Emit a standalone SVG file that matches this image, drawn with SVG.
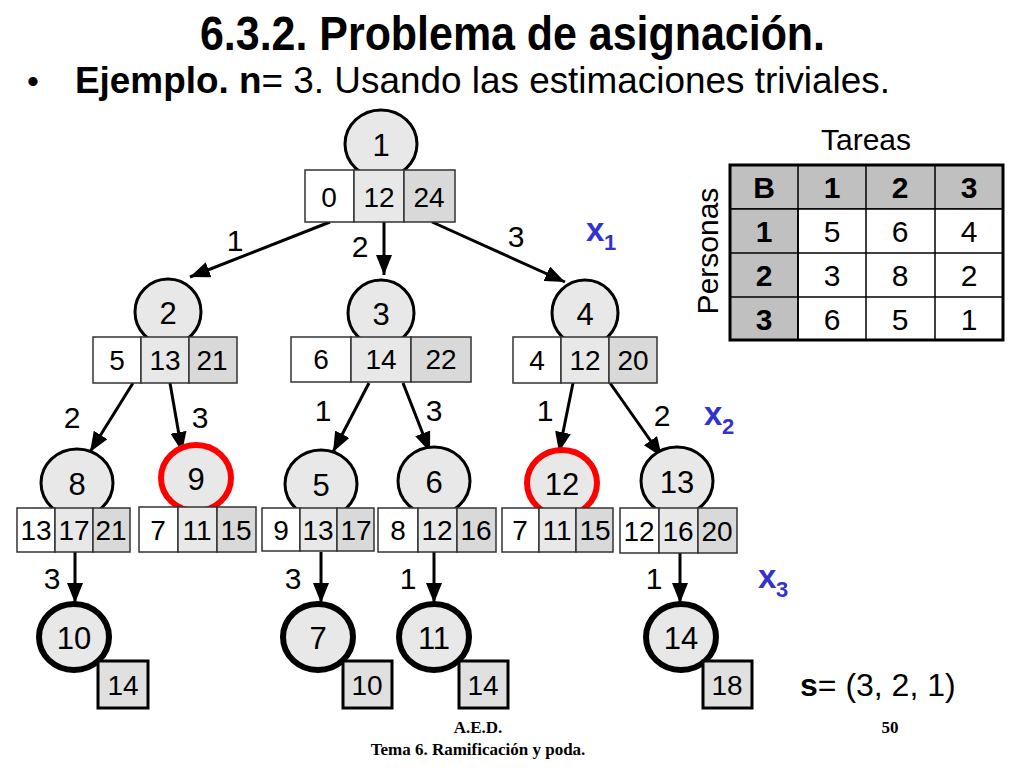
<svg xmlns="http://www.w3.org/2000/svg" width="1024" height="768" viewBox="0 0 1024 768">
<style>
text{font-family:"Liberation Sans",Arial,sans-serif;fill:#000}
.c{fill:#e8e8e8;stroke:#000;stroke-width:3}
.red{fill:#e8e8e8;stroke:#ff0000;stroke-width:6}
.fin{fill:#e8e8e8;stroke:#000;stroke-width:6}
.w{fill:#fff;stroke:#333;stroke-width:1.5}
.l{fill:#e8e8e8;stroke:#333;stroke-width:1.5}
.d{fill:#d9d9d9;stroke:#333;stroke-width:1.5}
.sq{fill:#e0e0e0;stroke:#000;stroke-width:3}
.n{font-size:31px;text-anchor:middle}
.b{font-size:28px;text-anchor:middle}
.e{font-size:30px;text-anchor:middle}
.x{font-size:33px;font-weight:bold;fill:#3333cc}
.xs{font-size:22px;font-weight:bold;fill:#3333cc}
.edge{stroke:#000;stroke-width:3;fill:none;marker-end:url(#ah)}
.tg{fill:#c0c0c0;stroke:#000;stroke-width:1.5}
.tw{fill:#fff;stroke:#000;stroke-width:1.5}
.t{font-size:30px;text-anchor:middle}
.ft{font-family:"Liberation Serif","Times New Roman",serif;font-weight:bold;font-size:17px;text-anchor:middle}
</style>
<defs>
<marker id="ah" markerUnits="userSpaceOnUse" markerWidth="20" markerHeight="16" viewBox="0 0 20 16" refX="20" refY="8" orient="auto">
<path d="M0,0 L20,8 L0,16 Z" fill="#000"/>
</marker>
</defs>
<rect width="1024" height="768" fill="#fff"/>

<text x="200" y="50" font-size="48" font-weight="bold" textLength="625" lengthAdjust="spacingAndGlyphs">6.3.2. Problema de asignación.</text>
<text x="27" y="93" font-size="34">•</text>
<text x="75" y="93" font-size="37" textLength="815" lengthAdjust="spacingAndGlyphs"><tspan font-weight="bold">Ejemplo. n</tspan>= 3. Usando las estimaciones triviales.</text>

<g id="connectors">
<line class="edge" x1="330" y1="222" x2="190" y2="277"/>
<line class="edge" x1="384" y1="222" x2="384" y2="275"/>
<line class="edge" x1="432" y1="222" x2="565" y2="282"/>
<line class="edge" x1="133" y1="383" x2="90" y2="452"/>
<line class="edge" x1="170" y1="383" x2="182" y2="452"/>
<line class="edge" x1="369" y1="383" x2="333" y2="452"/>
<line class="edge" x1="403" y1="383" x2="430" y2="452"/>
<line class="edge" x1="573" y1="383" x2="559" y2="452"/>
<line class="edge" x1="610" y1="383" x2="662" y2="457"/>
<line class="edge" x1="75" y1="552" x2="75" y2="603"/>
<line class="edge" x1="321" y1="552" x2="321" y2="603"/>
<line class="edge" x1="434" y1="552" x2="434" y2="603"/>
<line class="edge" x1="680" y1="552" x2="680" y2="603"/>
<text class="e" x="235" y="251">1</text>
<text class="e" x="360" y="257">2</text>
<text class="e" x="516" y="247">3</text>
<text class="e" x="72" y="428">2</text>
<text class="e" x="200" y="428">3</text>
<text class="e" x="323" y="421">1</text>
<text class="e" x="434" y="421">3</text>
<text class="e" x="545" y="421">1</text>
<text class="e" x="662" y="426">2</text>
<text class="e" x="52" y="589">3</text>
<text class="e" x="293" y="589">3</text>
<text class="e" x="408" y="589">1</text>
<text class="e" x="654" y="589">1</text>
</g>

<g id="xlabels">
<text class="x" x="586" y="241">x</text><text class="xs" x="604" y="250">1</text>
<text class="x" x="704" y="425">x</text><text class="xs" x="722" y="434">2</text>
<text class="x" x="758" y="588">x</text><text class="xs" x="776" y="597">3</text>
</g>

<g id="node1">
<ellipse class="c" cx="381" cy="144" rx="36" ry="34"/>
<text class="n" x="381" y="156">1</text>
<rect class="w" x="305" y="170" width="49" height="52"/>
<rect class="l" x="354" y="170" width="50" height="52"/>
<rect class="d" x="404" y="170" width="51" height="52"/>
<text class="b" x="329" y="207">0</text><text class="b" x="379" y="207">12</text><text class="b" x="429" y="207">24</text>
</g>

<g id="node2">
<ellipse class="c" cx="168" cy="312" rx="33" ry="33"/>
<text class="n" x="168" y="324">2</text>
<rect class="w" x="93" y="337" width="48" height="46"/>
<rect class="l" x="141" y="337" width="48" height="46"/>
<rect class="d" x="189" y="337" width="48" height="46"/>
<text class="b" x="117" y="370">5</text><text class="b" x="165" y="370">13</text><text class="b" x="212" y="370">21</text>
</g>

<g id="node3">
<ellipse class="c" cx="381" cy="313" rx="33" ry="33"/>
<text class="n" x="381" y="325">3</text>
<rect class="w" x="291" y="337" width="60" height="45"/>
<rect class="l" x="351" y="337" width="60" height="45"/>
<rect class="d" x="411" y="337" width="60" height="45"/>
<text class="b" x="321" y="369">6</text><text class="b" x="381" y="369">14</text><text class="b" x="441" y="369">22</text>
</g>

<g id="node4">
<ellipse class="c" cx="585" cy="313" rx="33" ry="33"/>
<text class="n" x="585" y="325">4</text>
<rect class="w" x="513" y="337" width="48" height="46"/>
<rect class="l" x="561" y="337" width="48" height="46"/>
<rect class="d" x="609" y="337" width="48" height="46"/>
<text class="b" x="537" y="370">4</text><text class="b" x="585" y="370">12</text><text class="b" x="633" y="370">20</text>
</g>

<g id="node8">
<ellipse class="c" cx="77" cy="483" rx="36" ry="34"/>
<text class="n" x="77" y="495">8</text>
<rect class="w" x="17" y="508" width="38" height="44"/>
<rect class="l" x="55" y="508" width="38" height="44"/>
<rect class="d" x="93" y="508" width="37" height="44"/>
<text class="b" x="36" y="540">13</text><text class="b" x="74" y="540">17</text><text class="b" x="111" y="540">21</text>
</g>

<g id="node9">
<ellipse class="red" cx="196" cy="478" rx="35" ry="33"/>
<text class="n" x="196" y="490">9</text>
<rect class="w" x="139" y="507" width="39" height="45"/>
<rect class="l" x="178" y="507" width="39" height="45"/>
<rect class="d" x="217" y="507" width="39" height="45"/>
<text class="b" x="158" y="540">7</text><text class="b" x="197" y="540">11</text><text class="b" x="236" y="540">15</text>
</g>

<g id="node5">
<ellipse class="c" cx="321" cy="484" rx="36" ry="34"/>
<text class="n" x="321" y="496">5</text>
<rect class="w" x="262" y="508" width="38" height="43"/>
<rect class="l" x="300" y="508" width="37" height="43"/>
<rect class="d" x="337" y="508" width="37" height="43"/>
<text class="b" x="281" y="540">9</text><text class="b" x="318" y="540">13</text><text class="b" x="356" y="540">17</text>
</g>

<g id="node6">
<ellipse class="c" cx="434" cy="481" rx="36" ry="34"/>
<text class="n" x="434" y="493">6</text>
<rect class="w" x="378" y="508" width="40" height="44"/>
<rect class="l" x="418" y="508" width="39" height="44"/>
<rect class="d" x="457" y="508" width="39" height="44"/>
<text class="b" x="398" y="540">8</text><text class="b" x="437" y="540">12</text><text class="b" x="476" y="540">16</text>
</g>

<g id="node12">
<ellipse class="red" cx="562" cy="483" rx="35" ry="33"/>
<text class="n" x="562" y="495">12</text>
<rect class="w" x="502" y="508" width="37" height="44"/>
<rect class="l" x="539" y="508" width="37" height="44"/>
<rect class="d" x="576" y="508" width="37" height="44"/>
<text class="b" x="520" y="540">7</text><text class="b" x="557" y="540">11</text><text class="b" x="595" y="540">15</text>
</g>

<g id="node13">
<ellipse class="c" cx="677" cy="481" rx="36" ry="34"/>
<text class="n" x="677" y="493">13</text>
<rect class="w" x="620" y="508" width="39" height="45"/>
<rect class="l" x="659" y="508" width="39" height="45"/>
<rect class="d" x="698" y="508" width="39" height="45"/>
<text class="b" x="639" y="541">12</text><text class="b" x="678" y="541">16</text><text class="b" x="717" y="541">20</text>
</g>

<g id="node10">
<ellipse class="fin" cx="74" cy="637" rx="35" ry="33"/>
<text class="n" x="74" y="649">10</text>
<rect class="sq" x="98" y="661" width="50" height="47"/>
<text class="b" x="123" y="695">14</text>
</g>

<g id="node7">
<ellipse class="fin" cx="318" cy="637" rx="35" ry="33"/>
<text class="n" x="318" y="649">7</text>
<rect class="sq" x="343" y="661" width="49" height="47"/>
<text class="b" x="367" y="695">10</text>
</g>

<g id="node11">
<ellipse class="fin" cx="434" cy="637" rx="35" ry="33"/>
<text class="n" x="434" y="649">11</text>
<rect class="sq" x="459" y="661" width="49" height="47"/>
<text class="b" x="483" y="695">14</text>
</g>

<g id="node14">
<ellipse class="fin" cx="681" cy="637" rx="35" ry="33"/>
<text class="n" x="681" y="649">14</text>
<rect class="sq" x="703" y="661" width="49" height="47"/>
<text class="b" x="727" y="695">18</text>
</g>

<g id="table">
<text class="t" x="866" y="150">Tareas</text>
<text class="t" transform="translate(718,251) rotate(-90)">Personas</text>
<rect class="tg" x="730" y="165" width="273" height="44"/>
<rect class="tg" x="730" y="209" width="68" height="131"/>
<rect class="tw" x="798" y="209" width="205" height="131"/>
<line x1="866" y1="165" x2="866" y2="340" stroke="#000" stroke-width="1.5"/>
<line x1="935" y1="165" x2="935" y2="340" stroke="#000" stroke-width="1.5"/>
<line x1="798" y1="165" x2="798" y2="340" stroke="#000" stroke-width="1.5"/>
<line x1="730" y1="253" x2="1003" y2="253" stroke="#000" stroke-width="1.5"/>
<line x1="730" y1="297" x2="1003" y2="297" stroke="#000" stroke-width="1.5"/>
<rect x="730" y="165" width="273" height="175" fill="none" stroke="#000" stroke-width="3"/>
<text class="t" font-weight="bold" x="764" y="198">B</text>
<text class="t" font-weight="bold" x="832" y="198">1</text>
<text class="t" font-weight="bold" x="900" y="198">2</text>
<text class="t" font-weight="bold" x="969" y="198">3</text>
<text class="t" font-weight="bold" x="764" y="242">1</text>
<text class="t" x="832" y="242">5</text><text class="t" x="900" y="242">6</text><text class="t" x="969" y="242">4</text>
<text class="t" font-weight="bold" x="764" y="286">2</text>
<text class="t" x="832" y="286">3</text><text class="t" x="900" y="286">8</text><text class="t" x="969" y="286">2</text>
<text class="t" font-weight="bold" x="764" y="330">3</text>
<text class="t" x="832" y="330">6</text><text class="t" x="900" y="330">5</text><text class="t" x="969" y="330">1</text>
</g>

<text x="800" y="696" font-size="32"><tspan font-weight="bold">s</tspan>= (3, 2, 1)</text>

<text class="ft" x="478" y="733">A.E.D.</text>
<text class="ft" x="890" y="733">50</text>
<text class="ft" x="478" y="755">Tema 6. Ramificación y poda.</text>
</svg>
